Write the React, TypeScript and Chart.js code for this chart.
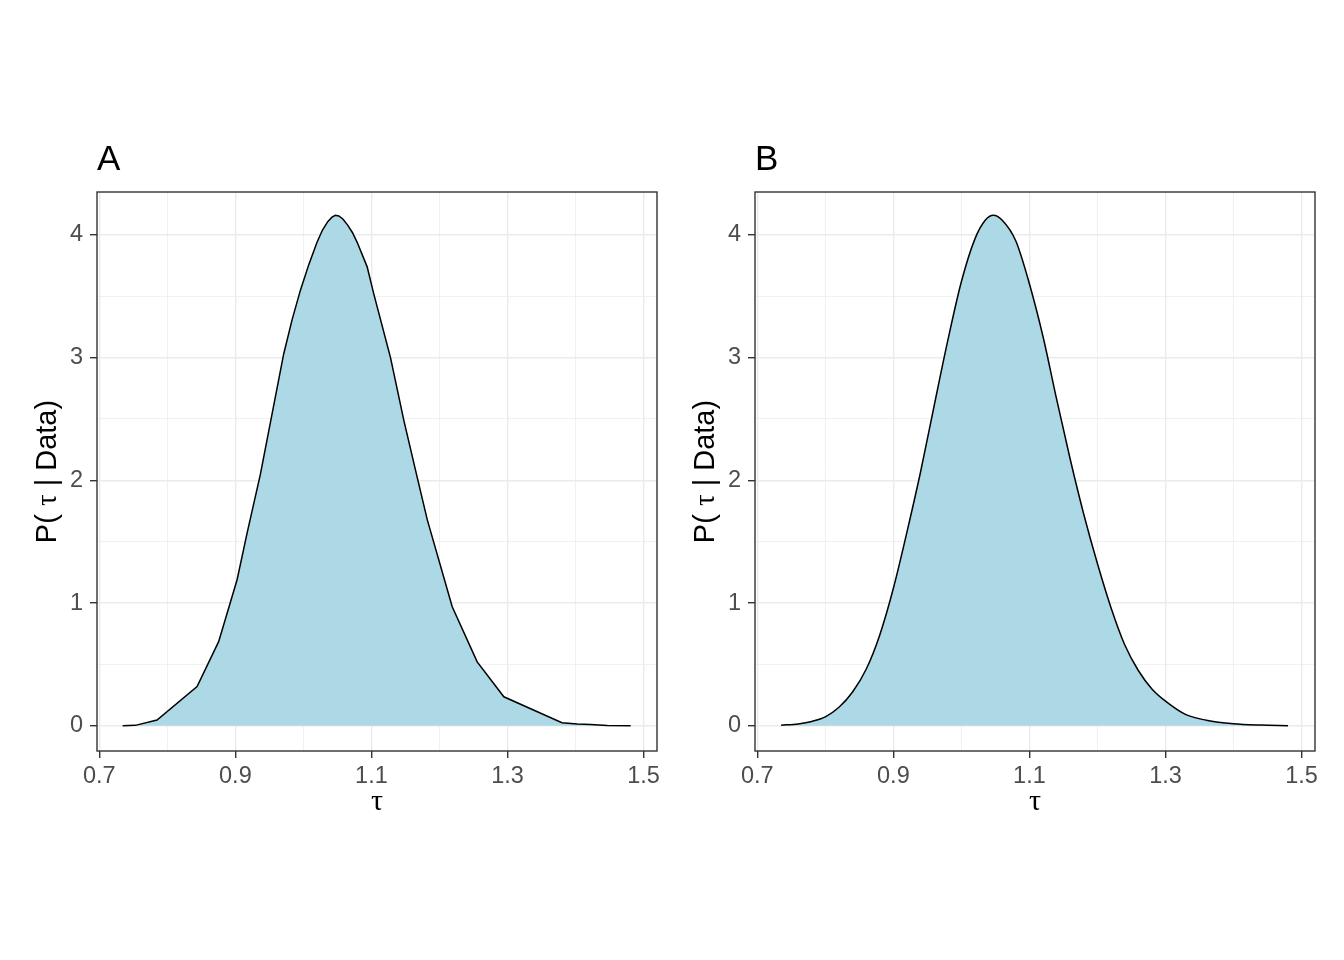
import React, { useEffect, useRef } from "react";
import { Chart, registerables } from "chart.js";

Chart.register(...registerables);

// Panel A: coarse density (piecewise linear)
const TAU_A = [0.7343, 0.753, 0.7848, 0.8437, 0.8754, 0.9025, 0.9172, 0.9368, 0.971, 0.9834, 0.9956, 1.008, 1.02, 1.028, 1.036, 1.042, 1.047, 1.052, 1.058, 1.065, 1.072, 1.079, 1.0937, 1.1034, 1.128, 1.1475, 1.167, 1.182, 1.2187, 1.2554, 1.2946, 1.38, 1.4025, 1.422, 1.4466, 1.481];
const DENS_A = [0.0, 0.003, 0.046, 0.32, 0.685, 1.19, 1.57, 2.05, 3.03, 3.31, 3.55, 3.76, 3.94, 4.04, 4.11, 4.145, 4.16, 4.155, 4.13, 4.08, 4.02, 3.94, 3.74, 3.52, 3.0, 2.49, 2.03, 1.68, 0.97, 0.52, 0.236, 0.025, 0.015, 0.01, 0.002, 0.0];

// Panel B: smooth density
const TAU_B = [0.735, 0.76, 0.78, 0.8, 0.82, 0.84, 0.86, 0.88, 0.9, 0.92, 0.94, 0.96, 0.98, 1.0, 1.02, 1.035, 1.047, 1.06, 1.08, 1.1, 1.12, 1.14, 1.16, 1.18, 1.2, 1.22, 1.24, 1.26, 1.28, 1.3, 1.33, 1.36, 1.4, 1.44, 1.48];
const DENS_B = [0.004, 0.015, 0.035, 0.072, 0.15, 0.275, 0.46, 0.74, 1.12, 1.58, 2.07, 2.61, 3.14, 3.62, 3.97, 4.12, 4.16, 4.12, 3.95, 3.6, 3.17, 2.66, 2.17, 1.72, 1.32, 0.96, 0.66, 0.45, 0.3, 0.2, 0.09, 0.045, 0.016, 0.005, 0.0];

const X_MAJOR = [0.7, 0.9, 1.1, 1.3, 1.5];
const X_MINOR = [0.8, 1.0, 1.2, 1.4];
const Y_MAJOR = [0, 1, 2, 3, 4];
const Y_MINOR = [0.5, 1.5, 2.5, 3.5];
const X_LIMITS = [0.6966, 1.5197];
const Y_LIMITS = [-0.206, 4.35];
const PANEL_TITLES = ["A", "B"];
const X_TITLE = "τ";
const Y_TITLE_PARTS = ["P( ", "τ", " | Data)"];

const SANS = '"Liberation Sans", Arial, sans-serif';
const SERIF = '"Liberation Serif", "DejaVu Serif", serif';

const W = 672;
const H = 960;

function isMajor(list: number[], v: number) {
  return list.some((m) => Math.abs(m - v) < 1e-9);
}

function decorPlugin(title: string) {
  return {
    id: "decor" + title,
    afterDraw(chart: any) {
      const { ctx, chartArea: a } = chart;
      ctx.save();
      ctx.strokeStyle = "#333333";
      ctx.lineWidth = 1.4;
      ctx.strokeRect(a.left, a.top, a.right - a.left, a.bottom - a.top);
      ctx.fillStyle = "#000000";
      ctx.font = `35px ${SANS}`;
      ctx.textAlign = "left";
      ctx.textBaseline = "alphabetic";
      ctx.fillText(title, a.left, 170);
      ctx.font = `30px ${SERIF}`;
      ctx.textAlign = "center";
      ctx.fillText(X_TITLE, (a.left + a.right) / 2, 810);
      ctx.translate(56, (a.top + a.bottom) / 2);
      ctx.rotate(-Math.PI / 2);
      const fonts = [`29px ${SANS}`, `29px ${SERIF}`, `29px ${SANS}`];
      const widths = Y_TITLE_PARTS.map((p, i) => {
        ctx.font = fonts[i];
        return ctx.measureText(p).width;
      });
      const total = widths.reduce((s, w) => s + w, 0);
      let x = -total / 2;
      ctx.textAlign = "left";
      Y_TITLE_PARTS.forEach((p, i) => {
        ctx.font = fonts[i];
        ctx.fillText(p, x, 0);
        x += widths[i];
      });
      ctx.restore();
    },
  };
}

function Panel({ title, xs, ys, smooth, left }: { title: string; xs: number[]; ys: number[]; smooth: boolean; left: number }) {
  const ref = useRef<HTMLCanvasElement | null>(null);
  useEffect(() => {
    if (!ref.current) return;
    const chart = new Chart(ref.current, {
      type: "line",
      data: {
        datasets: [
          {
            data: xs.map((x, i) => ({ x, y: ys[i] })),
            borderColor: "#000000",
            borderWidth: 1.5,
            backgroundColor: "#ADD8E6",
            fill: "origin",
            pointRadius: 0,
            tension: 0,
            cubicInterpolationMode: smooth ? "monotone" : "default",
          } as any,
        ],
      },
      options: {
        animation: false,
        responsive: false,
        events: [],
        layout: { padding: { top: 192, right: 15, bottom: 0, left: 0 } },
        plugins: { legend: { display: false }, tooltip: { enabled: false }, title: { display: false } },
        scales: {
          x: {
            type: "linear",
            min: X_LIMITS[0],
            max: X_LIMITS[1],
            afterBuildTicks: (s: any) => {
              s.ticks = [...X_MAJOR, ...X_MINOR].sort((p, q) => p - q).map((v) => ({ value: v }));
            },
            afterFit: (s: any) => {
              s.height = H - 751;
            },
            ticks: {
              autoSkip: false,
              maxRotation: 0,
              padding: 4,
              color: "#4D4D4D",
              font: { size: 23.5, family: SANS },
              callback: (v: any) => (isMajor(X_MAJOR, Number(v)) ? Number(v).toFixed(1) : ""),
            },
            grid: {
              color: "#EBEBEB",
              lineWidth: (c: any) => (c.tick && isMajor(X_MAJOR, c.tick.value) ? 1.4 : 0.7),
              tickColor: (c: any) => (c.tick && isMajor(X_MAJOR, c.tick.value) ? "#333333" : "rgba(0,0,0,0)"),
              tickLength: 7,
              tickWidth: 1.4,
            },
            border: { display: false },
          },
          y: {
            type: "linear",
            min: Y_LIMITS[0],
            max: Y_LIMITS[1],
            afterBuildTicks: (s: any) => {
              s.ticks = [...Y_MAJOR, ...Y_MINOR].sort((p, q) => p - q).map((v) => ({ value: v }));
            },
            afterFit: (s: any) => {
              s.width = 97;
            },
            ticks: {
              autoSkip: false,
              padding: 7,
              color: "#4D4D4D",
              font: { size: 23.5, family: SANS },
              callback: (v: any) => (isMajor(Y_MAJOR, Number(v)) ? String(v) : ""),
            },
            grid: {
              color: "#EBEBEB",
              lineWidth: (c: any) => (c.tick && isMajor(Y_MAJOR, c.tick.value) ? 1.4 : 0.7),
              tickColor: (c: any) => (c.tick && isMajor(Y_MAJOR, c.tick.value) ? "#333333" : "rgba(0,0,0,0)"),
              tickLength: 7,
              tickWidth: 1.4,
            },
            border: { display: false },
          },
        },
      } as any,
      plugins: [decorPlugin(title)],
    });
    return () => chart.destroy();
  }, [title, xs, ys, smooth]);
  return (
    <canvas
      ref={ref}
      width={W}
      height={H}
      style={{ position: "absolute", left, top: 0, width: W, height: H }}
    />
  );
}

export default function App() {
  return (
    <div style={{ position: "absolute", left: 0, top: 0, width: 1344, height: 960, background: "#ffffff", overflow: "hidden" }}>
      <Panel title={PANEL_TITLES[0]} xs={TAU_A} ys={DENS_A} smooth={false} left={0} />
      <Panel title={PANEL_TITLES[1]} xs={TAU_B} ys={DENS_B} smooth={true} left={658} />
    </div>
  );
}
